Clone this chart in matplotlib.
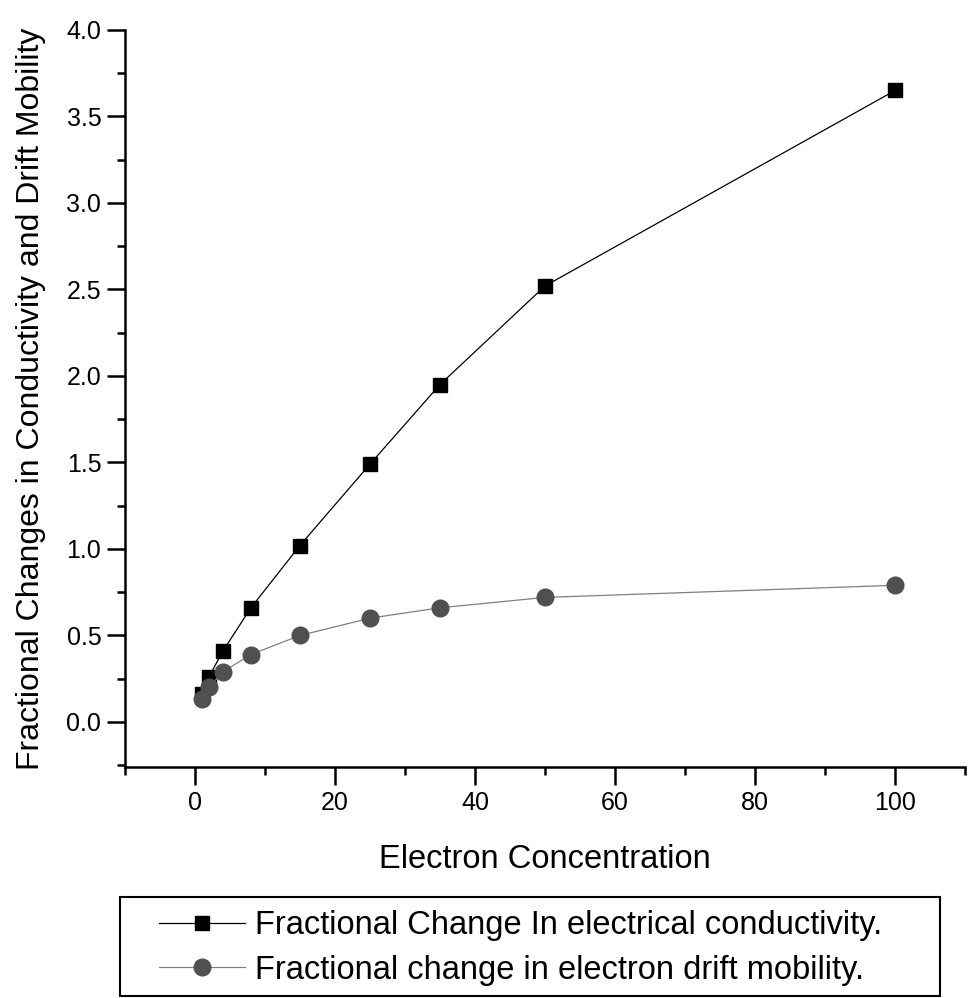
import matplotlib
matplotlib.use('Agg')
import matplotlib.pyplot as plt
from matplotlib.patches import Rectangle
from matplotlib.ticker import MultipleLocator, FormatStrFormatter

plt.rcParams['font.family'] = ['Liberation Sans', 'DejaVu Sans']

conc = [1, 2, 4, 8, 15, 25, 35, 50, 100]
conductivity = [0.16, 0.26, 0.41, 0.66, 1.02, 1.49, 1.95, 2.52, 3.65]
mobility = [0.13, 0.20, 0.29, 0.39, 0.50, 0.60, 0.66, 0.72, 0.79]

fig = plt.figure(figsize=(9.68, 9.98), dpi=100, facecolor='white')
ax = fig.add_axes([0.129, 0.2315, 0.868, 0.7385])

ax.plot(conc, conductivity, color='black', lw=0.9, marker='s', ms=10.5,
        mfc='black', mec='black', label='Fractional Change In electrical conductivity.')
ax.plot(conc, mobility, color='#808080', lw=0.9, marker='o', ms=12,
        mfc='#505050', mec='#505050', label='Fractional change in electron drift mobility.')

ax.set_xlim(-10, 110)
ax.set_ylim(-0.26, 4.0)
ax.xaxis.set_major_locator(MultipleLocator(20))
ax.xaxis.set_minor_locator(MultipleLocator(10))
ax.yaxis.set_minor_locator(MultipleLocator(0.25))
ax.set_yticks([0, 0.5, 1.0, 1.5, 2.0, 2.5, 3.0, 3.5, 4.0])
ax.yaxis.set_major_formatter(FormatStrFormatter('%.1f'))

for s in ['top', 'right']:
    ax.spines[s].set_visible(False)
for s in ['left', 'bottom']:
    ax.spines[s].set_linewidth(1.8)
ax.tick_params(which='major', direction='out', length=13, width=1.8, labelsize=18, pad=4)
ax.tick_params(which='minor', direction='out', length=6, width=1.8)

ax.set_xlabel('Electron Concentration', fontsize=23.5, labelpad=21)
ax.set_ylabel('Fractional Changes in Conductivity and Drift Mobility',
              fontsize=23, labelpad=15)

# legend frame drawn separately so the entries can sit inset from its left edge
fig.patches.append(Rectangle((0.124, 0.002), 0.847, 0.0992, transform=fig.transFigure,
                             fill=False, edgecolor='black', lw=1.5))
fig.legend(loc='upper left', bbox_to_anchor=(0.164, 0.088), fontsize=23.5,
           frameon=False, handlelength=2.65, borderaxespad=0, borderpad=0,
           labelspacing=0.42, handletextpad=0.3)

fig.savefig('out.png', dpi=100, facecolor='white')
